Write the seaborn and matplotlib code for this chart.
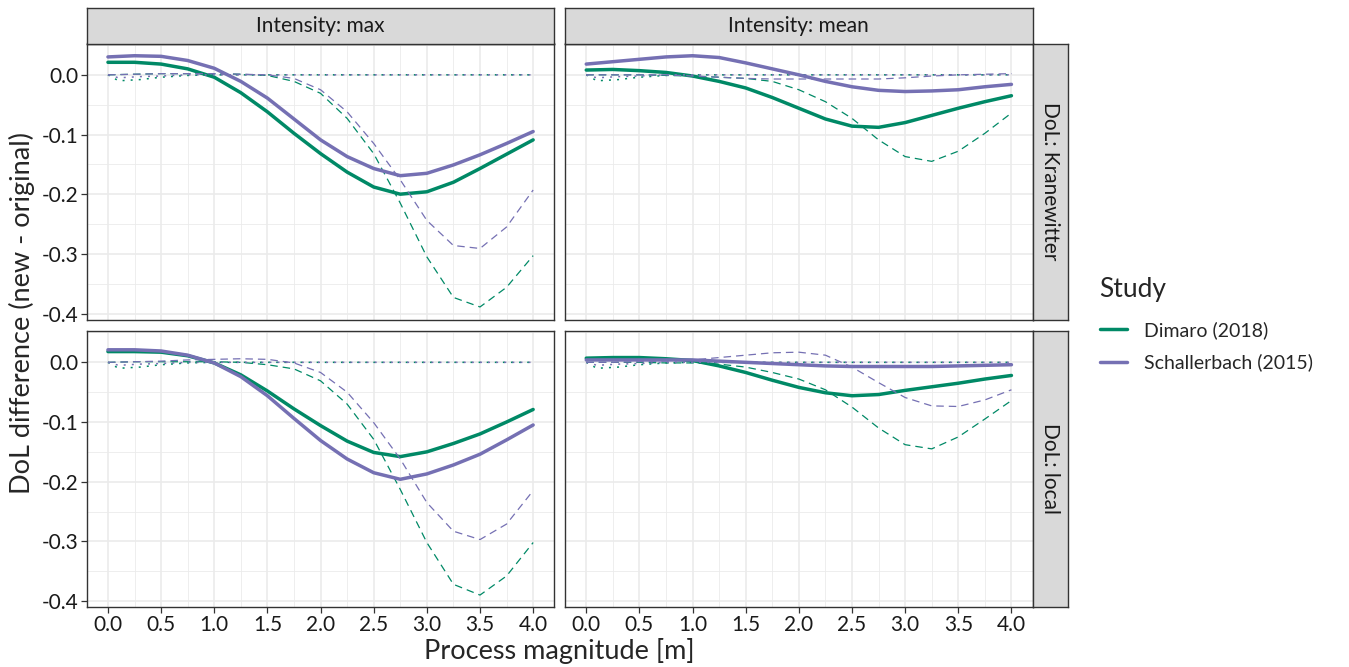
import matplotlib.pyplot as plt
import seaborn as sns
import pandas as pd
import numpy as np
from matplotlib.lines import Line2D
from matplotlib.ticker import MultipleLocator, FormatStrFormatter

# process magnitude grid (m)
x = [0.0, 0.25, 0.5, 0.75, 1.0, 1.25, 1.5, 1.75, 2.0, 2.25, 2.5, 2.75, 3.0, 3.25, 3.5, 3.75, 4.0]
x_dot = [0.0, 0.1, 0.2, 0.3, 0.5, 0.75, 1.0, 2.0, 3.0, 4.0]

# Intensity: max, DoL: Kranewitter
max_kran_dim = [0.021, 0.021, 0.018, 0.010, -0.004, -0.030, -0.062, -0.098, -0.132, -0.163, -0.188, -0.200, -0.196, -0.180, -0.157, -0.133, -0.109]
max_kran_sch = [0.030, 0.032, 0.031, 0.024, 0.011, -0.011, -0.039, -0.074, -0.109, -0.137, -0.157, -0.169, -0.165, -0.151, -0.134, -0.115, -0.095]
max_kran_dim_d = [0.0, 0.001, 0.002, 0.002, 0.002, 0.001, -0.001, -0.011, -0.031, -0.073, -0.132, -0.215, -0.305, -0.373, -0.389, -0.356, -0.303]
max_kran_sch_d = [0.0, 0.001, 0.002, 0.002, 0.002, 0.001, 0.0, -0.006, -0.025, -0.062, -0.115, -0.176, -0.244, -0.286, -0.291, -0.255, -0.193]

# Intensity: mean, DoL: Kranewitter
mean_kran_dim = [0.008, 0.009, 0.007, 0.004, -0.002, -0.011, -0.022, -0.038, -0.056, -0.074, -0.086, -0.088, -0.080, -0.068, -0.056, -0.045, -0.035]
mean_kran_sch = [0.018, 0.022, 0.026, 0.030, 0.032, 0.029, 0.020, 0.010, 0.0, -0.011, -0.020, -0.026, -0.028, -0.027, -0.025, -0.020, -0.016]
mean_kran_dim_d = [0.0, 0.0, 0.0, -0.001, -0.002, -0.004, -0.006, -0.011, -0.025, -0.045, -0.073, -0.109, -0.137, -0.145, -0.128, -0.098, -0.064]
mean_kran_sch_d = [0.0, 0.0, 0.0, 0.0, -0.002, -0.004, -0.006, -0.007, -0.007, -0.007, -0.007, -0.007, -0.005, -0.002, 0.0, 0.001, 0.002]

# Intensity: max, DoL: local
max_loc_dim = [0.018, 0.018, 0.017, 0.011, -0.001, -0.021, -0.048, -0.078, -0.106, -0.132, -0.151, -0.158, -0.150, -0.136, -0.120, -0.100, -0.079]
max_loc_sch = [0.021, 0.021, 0.019, 0.012, -0.001, -0.024, -0.056, -0.094, -0.131, -0.162, -0.185, -0.196, -0.187, -0.172, -0.154, -0.130, -0.105]
max_loc_dim_d = [0.0, 0.001, 0.001, 0.001, 0.001, 0.0, -0.004, -0.011, -0.031, -0.070, -0.129, -0.213, -0.302, -0.372, -0.390, -0.358, -0.302]
max_loc_sch_d = [0.0, 0.001, 0.002, 0.004, 0.005, 0.006, 0.005, -0.001, -0.017, -0.050, -0.101, -0.162, -0.235, -0.283, -0.297, -0.271, -0.215]

# Intensity: mean, DoL: local
mean_loc_dim = [0.007, 0.008, 0.008, 0.006, 0.003, -0.006, -0.017, -0.030, -0.042, -0.051, -0.056, -0.054, -0.047, -0.041, -0.035, -0.028, -0.022]
mean_loc_sch = [0.004, 0.004, 0.004, 0.004, 0.004, 0.002, 0.0, -0.002, -0.004, -0.006, -0.007, -0.007, -0.007, -0.007, -0.006, -0.005, -0.004]
mean_loc_dim_d = [0.0, 0.0, 0.0, -0.001, -0.001, -0.003, -0.008, -0.017, -0.028, -0.046, -0.075, -0.110, -0.138, -0.145, -0.125, -0.095, -0.064]
mean_loc_sch_d = [0.0, 0.0, 0.001, 0.002, 0.004, 0.008, 0.012, 0.016, 0.017, 0.012, -0.008, -0.034, -0.059, -0.073, -0.074, -0.063, -0.046]

# baseline curves (same in every panel)
base_dim = [0.0, -0.010, -0.009, -0.008, -0.004, -0.001, 0.0, 0.0, 0.0, 0.0]
base_sch = [0.0, -0.005, -0.004, -0.003, -0.002, 0.0, 0.0, 0.0, 0.0, 0.0]

studies = ["Dimaro (2018)", "Schallerbach (2015)"]
palette = {"Dimaro (2018)": "#008966", "Schallerbach (2015)": "#7570B3"}
intensities = ["max", "mean"]
dols = ["Kranewitter", "local"]

panels = {
    ("max", "Kranewitter"): (max_kran_dim, max_kran_sch, max_kran_dim_d, max_kran_sch_d),
    ("mean", "Kranewitter"): (mean_kran_dim, mean_kran_sch, mean_kran_dim_d, mean_kran_sch_d),
    ("max", "local"): (max_loc_dim, max_loc_sch, max_loc_dim_d, max_loc_sch_d),
    ("mean", "local"): (mean_loc_dim, mean_loc_sch, mean_loc_dim_d, mean_loc_sch_d),
}

rows = []
for (inten, dol), (a, b, c, d) in panels.items():
    parts = [(x, a, studies[0], "main"), (x, b, studies[1], "main"),
             (x, c, studies[0], "alt"), (x, d, studies[1], "alt"),
             (x_dot, base_dim, studies[0], "base"), (x_dot, base_sch, studies[1], "base")]
    for xs, ys, st, cv in parts:
        for xv, yv in zip(xs, ys):
            rows.append([inten, dol, st, cv, xv, yv])
df = pd.DataFrame(rows, columns=["Intensity", "DoL", "Study", "Curve", "Magnitude", "Diff"])

sns.set_style("white")
plt.rcParams['font.family'] = ['Lato', 'DejaVu Sans']
plt.rcParams['axes.unicode_minus'] = False

W, H = 1349, 667
fig = plt.figure(figsize=(W / 100, H / 100), dpi=100)

lefts = [86.7, 565.0]
tops = [43.5, 331.0]
pw, ph = 467.7, 276.0
grey20 = "#333333"
txt = "#1a1a1a"

for i, dol in enumerate(dols):
    for j, inten in enumerate(intensities):
        ax = fig.add_axes([lefts[j] / W, 1 - (tops[i] + ph) / H, pw / W, ph / H])
        sub = df[(df.Intensity == inten) & (df.DoL == dol)]
        sns.lineplot(data=sub, x="Magnitude", y="Diff", hue="Study", hue_order=studies,
                     palette=palette, style="Curve", style_order=["main", "alt", "base"],
                     dashes={"main": "", "alt": (6, 4), "base": (1.3, 4)},
                     size="Curve", sizes={"main": 2.5, "alt": 0.9, "base": 1.1},
                     errorbar=None, legend=False, ax=ax)
        ax.set_xlim(-0.2, 4.2)
        ax.set_ylim(-0.410, 0.0525)
        ax.xaxis.set_major_locator(MultipleLocator(0.5))
        ax.xaxis.set_minor_locator(MultipleLocator(0.25))
        ax.yaxis.set_major_locator(MultipleLocator(0.1))
        ax.yaxis.set_minor_locator(MultipleLocator(0.05))
        ax.xaxis.set_major_formatter(FormatStrFormatter('%.1f'))
        ax.yaxis.set_major_formatter(FormatStrFormatter('%.1f'))
        ax.grid(which='major', color='#EBEBEB', linewidth=1.2)
        ax.grid(which='minor', color='#EBEBEB', linewidth=0.6)
        ax.set_axisbelow(True)
        for s in ax.spines.values():
            s.set_color(grey20)
            s.set_linewidth(1.0)
        ax.tick_params(which='major', length=4, width=0.9, color=grey20,
                       labelsize=15, labelcolor=txt, pad=2)
        ax.tick_params(which='minor', length=0)
        ax.tick_params(axis='x', bottom=(i == 1), labelbottom=(i == 1))
        ax.tick_params(axis='y', left=(j == 0), labelleft=(j == 0))
        ax.set_xlabel("")
        ax.set_ylabel("")

        if i == 0:
            sax = fig.add_axes([lefts[j] / W, 1 - tops[0] / H, pw / W, 35.5 / H])
            sax.set_facecolor("#D9D9D9")
            sax.set_xticks([]); sax.set_yticks([])
            for s in sax.spines.values():
                s.set_color(grey20); s.set_linewidth(1.0)
            sax.text(0.5, 0.5, "Intensity: " + inten, ha='center', va='center',
                     fontsize=15, color=txt, transform=sax.transAxes)
        if j == 1:
            rax = fig.add_axes([(lefts[1] + pw) / W, 1 - (tops[i] + ph) / H, 35.0 / W, ph / H])
            rax.set_facecolor("#D9D9D9")
            rax.set_xticks([]); rax.set_yticks([])
            for s in rax.spines.values():
                s.set_color(grey20); s.set_linewidth(1.0)
            rax.text(0.5, 0.5, "DoL: " + dol, ha='center', va='center', rotation=-90,
                     fontsize=15, color=txt, transform=rax.transAxes)

fig.text((lefts[0] + lefts[1] + pw) / 2 / W, 1 - 651 / H, "Process magnitude [m]",
         ha='center', va='center', fontsize=19.5)
fig.text(22 / W, 1 - 313 / H, "DoL difference (new - original)",
         ha='center', va='center', rotation=90, fontsize=19.5)

handles = [Line2D([], [], color=palette[s], linewidth=2.5) for s in studies]
leg = fig.legend(handles, studies, title="Study", loc='upper left',
                 bbox_to_anchor=(1082 / W, 1 - 259 / H), frameon=False,
                 fontsize=14, title_fontsize=19, handlelength=1.4,
                 handletextpad=0.9, labelspacing=0.75, alignment='left')
leg._legend_box.sep = 14

fig.savefig("out.png", dpi=100)
